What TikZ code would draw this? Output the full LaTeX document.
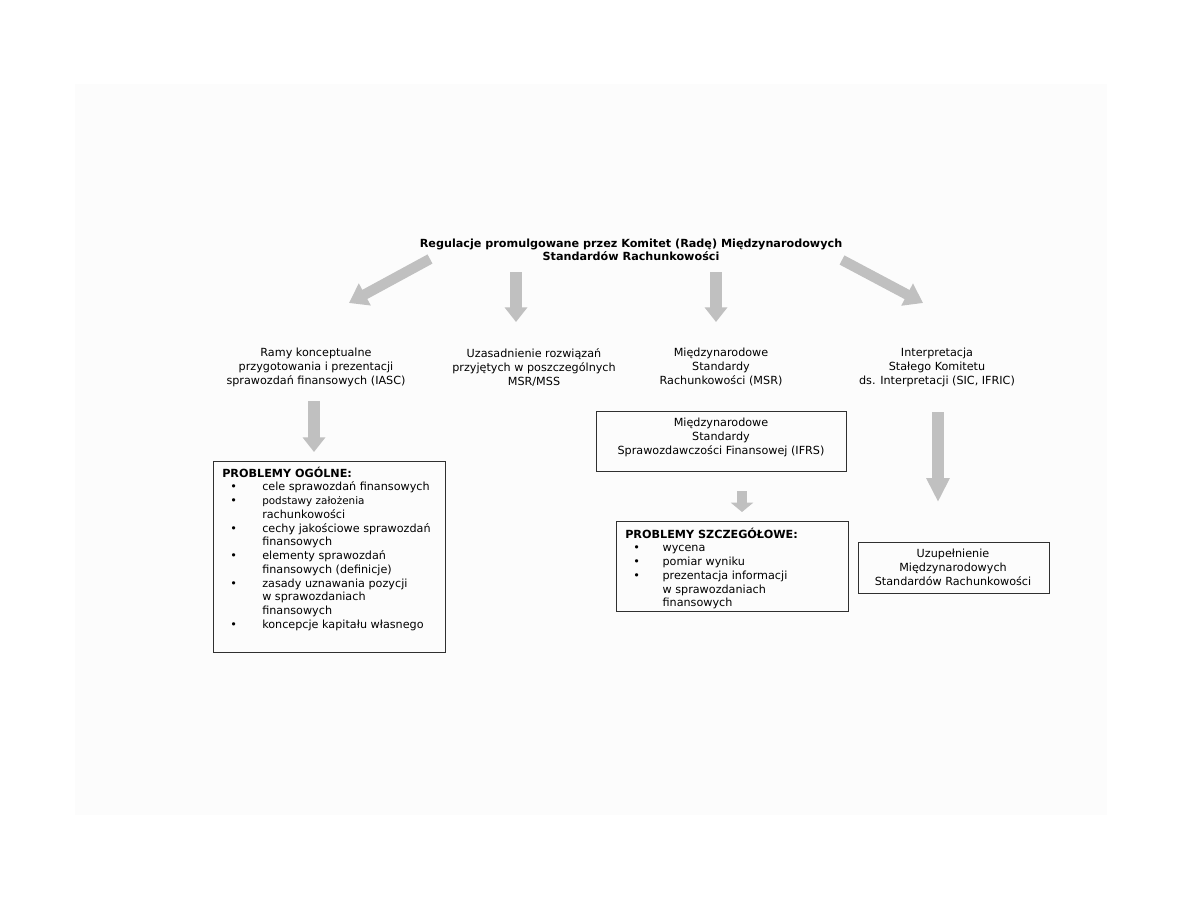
\documentclass[tikz,border=0pt]{standalone}
\usepackage{fontspec}
\setmainfont{DejaVu Sans}
\usetikzlibrary{arrows.meta}
\definecolor{bg}{HTML}{FCFCFC}
\definecolor{arrgray}{HTML}{C0C0C0}
\definecolor{boxline}{HTML}{303030}
\tikzset{
  lbl/.style={align=center, inner sep=0, anchor=north, font=\fontsize{8.4}{10.5}\selectfont},
  ttl/.style={align=center, inner sep=0, anchor=north, font=\fontsize{8.4}{10}\selectfont\bfseries},
  box/.style={draw=boxline, line width=0.75pt, anchor=north west, inner sep=0},
  listtext/.style={align=left, inner sep=0, anchor=north west, font=\fontsize{8.4}{10.3}\selectfont},
  bigarrow/.style={draw=arrgray, line width=9pt, -{Triangle[width=16.5pt,length=11pt]}},
  diagarrow/.style={draw=arrgray, line width=7.8pt, -{Triangle[width=18pt,length=13.5pt]}},
}
\newcommand\bitem[2][30pt]{\makebox[#1][l]{\hspace{6pt}•}#2}
\newcommand\bcont[2][30pt]{\makebox[#1]{}#2}
\begin{document}
\begin{tikzpicture}[x=0.75pt,y=-0.75pt]
\useasboundingbox (0,0) rectangle (1188,918);
\fill[bg] (75,84) rectangle (1107,815);

% title
\node[ttl] (title) at (631,238.5) {Regulacje promulgowane przez Komitet (Radę) Międzynarodowych\\Standardów Rachunkowości};

% arrow end points
\coordinate (a1s) at (430,259); \coordinate (a1e) at (349,303);
\coordinate (a2s) at (516,272); \coordinate (a2e) at (516,322);
\coordinate (a3s) at (716,272); \coordinate (a3e) at (716,322);
\coordinate (a4s) at (842,260); \coordinate (a4e) at (923,303);
\draw[diagarrow] (a1s) -- (a1e);
\draw[bigarrow] (a2s) -- (a2e);
\draw[bigarrow] (a3s) -- (a3e);
\draw[diagarrow] (a4s) -- (a4e);

% second row labels
\node[lbl] (ramy) at (316,348) {Ramy konceptualne\\przygotowania i prezentacji\\sprawozdań finansowych (IASC)};
\node[lbl] (uzas) at (534,348) {Uzasadnienie rozwiązań\\przyjętych w poszczególnych\\MSR/MSS};
\node[lbl] (msr) at (721,348) {Międzynarodowe\\Standardy\\Rachunkowości (MSR)};
\node[lbl] (interp) at (937,348) {Interpretacja\\Stałego Komitetu\\ds. Interpretacji (SIC, IFRIC)};

% arrow under Ramy
\coordinate (a5s) at (314,401); \coordinate (a5e) at (314,452);
\draw[bigarrow] (a5s) -- (a5e);

% box PROBLEMY OGOLNE
\node[box, minimum width=174pt, minimum height=143.25pt] (ogbox) at (213,461) {};
\node[listtext] (ogtext) at (222,466.5) {\textbf{PROBLEMY OGÓLNE:}\\
\bitem{cele sprawozdań finansowych}\\
\bitem{{\fontsize{7.8}{10.3}\selectfont podstawy założenia}}\\
\bcont{rachunkowości}\\
\bitem{cechy jakościowe sprawozdań}\\
\bcont{finansowych}\\
\bitem{elementy sprawozdań}\\
\bcont{finansowych (definicje)}\\
\bitem{zasady uznawania pozycji}\\
\bcont{w sprawozdaniach}\\
\bcont{finansowych}\\
\bitem{koncepcje kapitału własnego}};

% IFRS box
\node[box, minimum width=187.5pt, minimum height=45pt] (ifrsbox) at (596,411) {};
\node[lbl] (ifrstext) at (721,418) {Międzynarodowe\\Standardy\\Sprawozdawczości Finansowej (IFRS)};

% small arrow
\coordinate (a6s) at (742,491); \coordinate (a6e) at (742,512);
\draw[draw=arrgray, line width=7.5pt, -{Triangle[width=16.5pt,length=7pt]}] (a6s) -- (a6e);

% box PROBLEMY SZCZEGOLOWE
\node[box, minimum width=174pt, minimum height=67.5pt] (szbox) at (616,521) {};
\node[listtext] (sztext) at (625,527.5) {\textbf{PROBLEMY SZCZEGÓŁOWE:}\\
\bitem[28pt]{wycena}\\
\bitem[28pt]{pomiar wyniku}\\
\bitem[28pt]{prezentacja informacji}\\
\bcont[28pt]{w sprawozdaniach}\\
\bcont[28pt]{finansowych}};

% long right arrow
\coordinate (a7s) at (938,412); \coordinate (a7e) at (938,502);
\draw[draw=arrgray, line width=9pt, -{Triangle[width=16.5pt,length=18pt]}] (a7s) -- (a7e);

% box Uzupelnienie
\node[box, minimum width=143.25pt, minimum height=38.25pt] (uzbox) at (858,542) {};
\node[lbl] (uztext) at (953,549) {Uzupełnienie\\Międzynarodowych\\Standardów Rachunkowości};
\end{tikzpicture}
\end{document}
